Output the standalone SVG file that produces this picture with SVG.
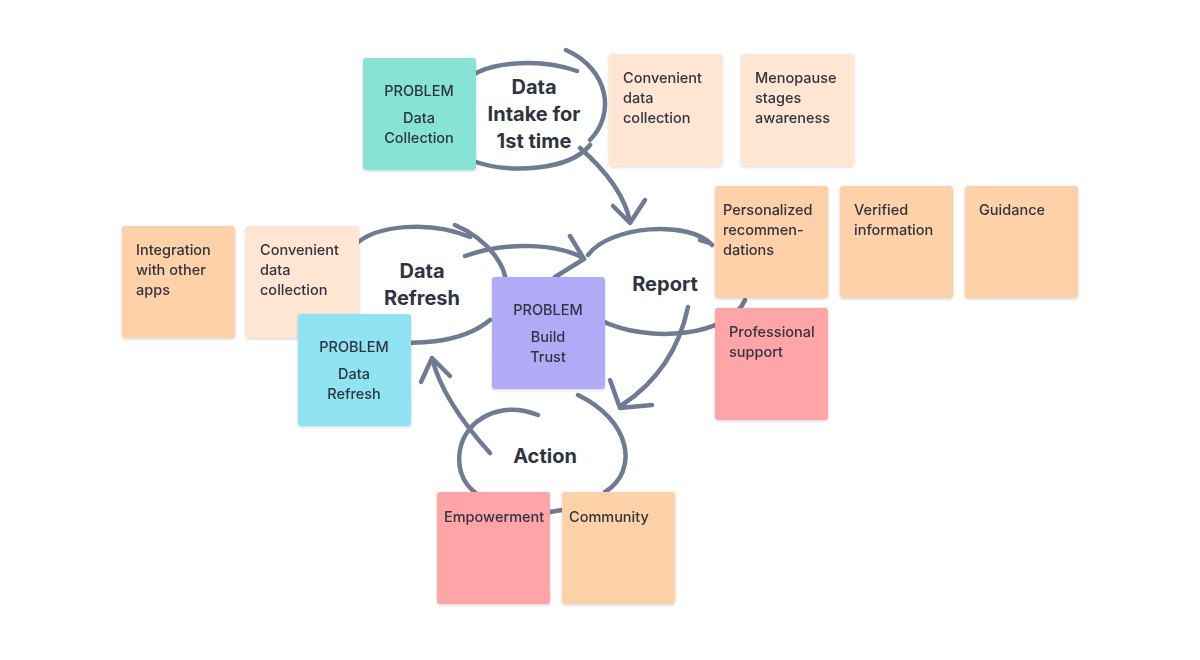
<svg xmlns="http://www.w3.org/2000/svg" width="1200" height="660" viewBox="0 0 1200 660">
<defs>
<filter id="sh" x="-20%" y="-20%" width="140%" height="140%"><feDropShadow dx="0" dy="1" stdDeviation="1.5" flood-color="#000" flood-opacity="0.18"/></filter>
<style>
.ln{fill:none;stroke:#6e7b93;stroke-width:4.5;stroke-linecap:round;stroke-linejoin:round}
.n{filter:url(#sh)}
.t{font-family:Inter,"Noto Sans",sans-serif;font-size:14.5px;font-weight:500;fill:#2f3440}
.c{text-anchor:middle}
.b{font-family:Inter,"Noto Sans",sans-serif;font-size:20px;font-weight:700;fill:#2f3440;text-anchor:middle}
</style>
</defs>
<rect width="1200" height="660" fill="#fff"/>
<g id="connectors">
<!-- Data Intake loop -->
<path class="ln" d="M577,71 C540,58 480,60 462,85 M590,145 C570,170 510,175 470,160 M566,50 C610,70 615,115 590,140"/>
<path class="ln" d="M580,148 C605,170 625,195 630,222 M613,206 L630,223 L645,200"/>
<!-- Report loop -->
<path class="ln" d="M588,255 C610,225 690,220 712,245 M745,300 C730,335 650,345 600,320 M700,240 L710,243"/>
<path class="ln" d="M688,307 C680,345 660,380 622,405 M610,380 L620,408 L652,405"/>
<!-- Data Refresh loop -->
<path class="ln" d="M470,237 C430,220 375,225 355,245 M490,320 C460,345 410,345 380,340 M455,225 C490,240 510,270 505,290"/>
<path class="ln" d="M465,256 C510,240 560,245 583,258 M555,277 L584,259 L570,236"/>
<!-- Action loop -->
<path class="ln" d="M538,415 C500,400 465,420 460,450 C455,480 475,495 485,497 M578,395 C630,420 640,470 605,492 M550,512 L562,510"/>
<path class="ln" d="M490,453 C460,420 440,390 432,358 M421,382 L432,358 L450,376"/>
</g>
<text class="b" x="534" y="94">Data</text>
<text class="b" x="534" y="121">Intake for</text>
<text class="b" x="534" y="148">1st time</text>
<text class="b" x="665" y="291">Report</text>
<text class="b" x="422" y="278">Data</text>
<text class="b" x="422" y="305">Refresh</text>
<text class="b" x="545" y="463">Action</text>
<g id="n1" class="n"><rect x="363" y="58" width="113" height="112" rx="3" fill="#88e3d7"/><text class="t c" x="419" y="96">PROBLEM</text><text class="t c" x="419" y="123">Data</text><text class="t c" x="419" y="143">Collection</text></g>
<g id="n2" class="n"><rect x="609" y="54" width="113" height="112" rx="3" fill="#ffe6d3"/><text class="t" x="623" y="83">Convenient</text><text class="t" x="623" y="103">data</text><text class="t" x="623" y="123">collection</text></g>
<g id="n3" class="n"><rect x="741" y="54" width="113" height="112" rx="3" fill="#ffe6d3"/><text class="t" x="755" y="83">Menopause</text><text class="t" x="755" y="103">stages</text><text class="t" x="755" y="123">awareness</text></g>
<g id="n4" class="n"><rect x="715" y="186" width="113" height="112" rx="3" fill="#ffd1a8"/><text class="t" x="723" y="215">Personalized</text><text class="t" x="723" y="235">recommen-</text><text class="t" x="723" y="255">dations</text></g>
<g id="n5" class="n"><rect x="840" y="186" width="113" height="112" rx="3" fill="#ffd1a8"/><text class="t" x="854" y="215">Verified</text><text class="t" x="854" y="235">information</text></g>
<g id="n6" class="n"><rect x="965" y="186" width="113" height="112" rx="3" fill="#ffd1a8"/><text class="t" x="979" y="215">Guidance</text></g>
<g id="n7" class="n"><rect x="715" y="308" width="113" height="112" rx="3" fill="#ffa5a8"/><text class="t" x="729" y="337">Professional</text><text class="t" x="729" y="357">support</text></g>
<g id="n8" class="n"><rect x="122" y="226" width="113" height="112" rx="3" fill="#ffd1a8"/><text class="t" x="136" y="255">Integration</text><text class="t" x="136" y="275">with other</text><text class="t" x="136" y="295">apps</text></g>
<g id="n9" class="n"><rect x="246" y="226" width="113" height="112" rx="3" fill="#ffe6d3"/><text class="t" x="260" y="255">Convenient</text><text class="t" x="260" y="275">data</text><text class="t" x="260" y="295">collection</text></g>
<g id="n10" class="n"><rect x="298" y="314" width="113" height="112" rx="3" fill="#8fe3f3"/><text class="t c" x="354" y="352">PROBLEM</text><text class="t c" x="354" y="379">Data</text><text class="t c" x="354" y="399">Refresh</text></g>
<g id="n11" class="n"><rect x="492" y="277" width="113" height="112" rx="3" fill="#b1aaf7"/><text class="t c" x="548" y="315">PROBLEM</text><text class="t c" x="548" y="342">Build</text><text class="t c" x="548" y="362">Trust</text></g>
<g id="n12" class="n"><rect x="437" y="492" width="113" height="112" rx="3" fill="#ffa5a8"/><text class="t" x="444" y="522">Empowerment</text></g>
<g id="n13" class="n"><rect x="562" y="492" width="113" height="112" rx="3" fill="#ffd1a8"/><text class="t" x="569" y="522">Community</text></g>
</svg>
